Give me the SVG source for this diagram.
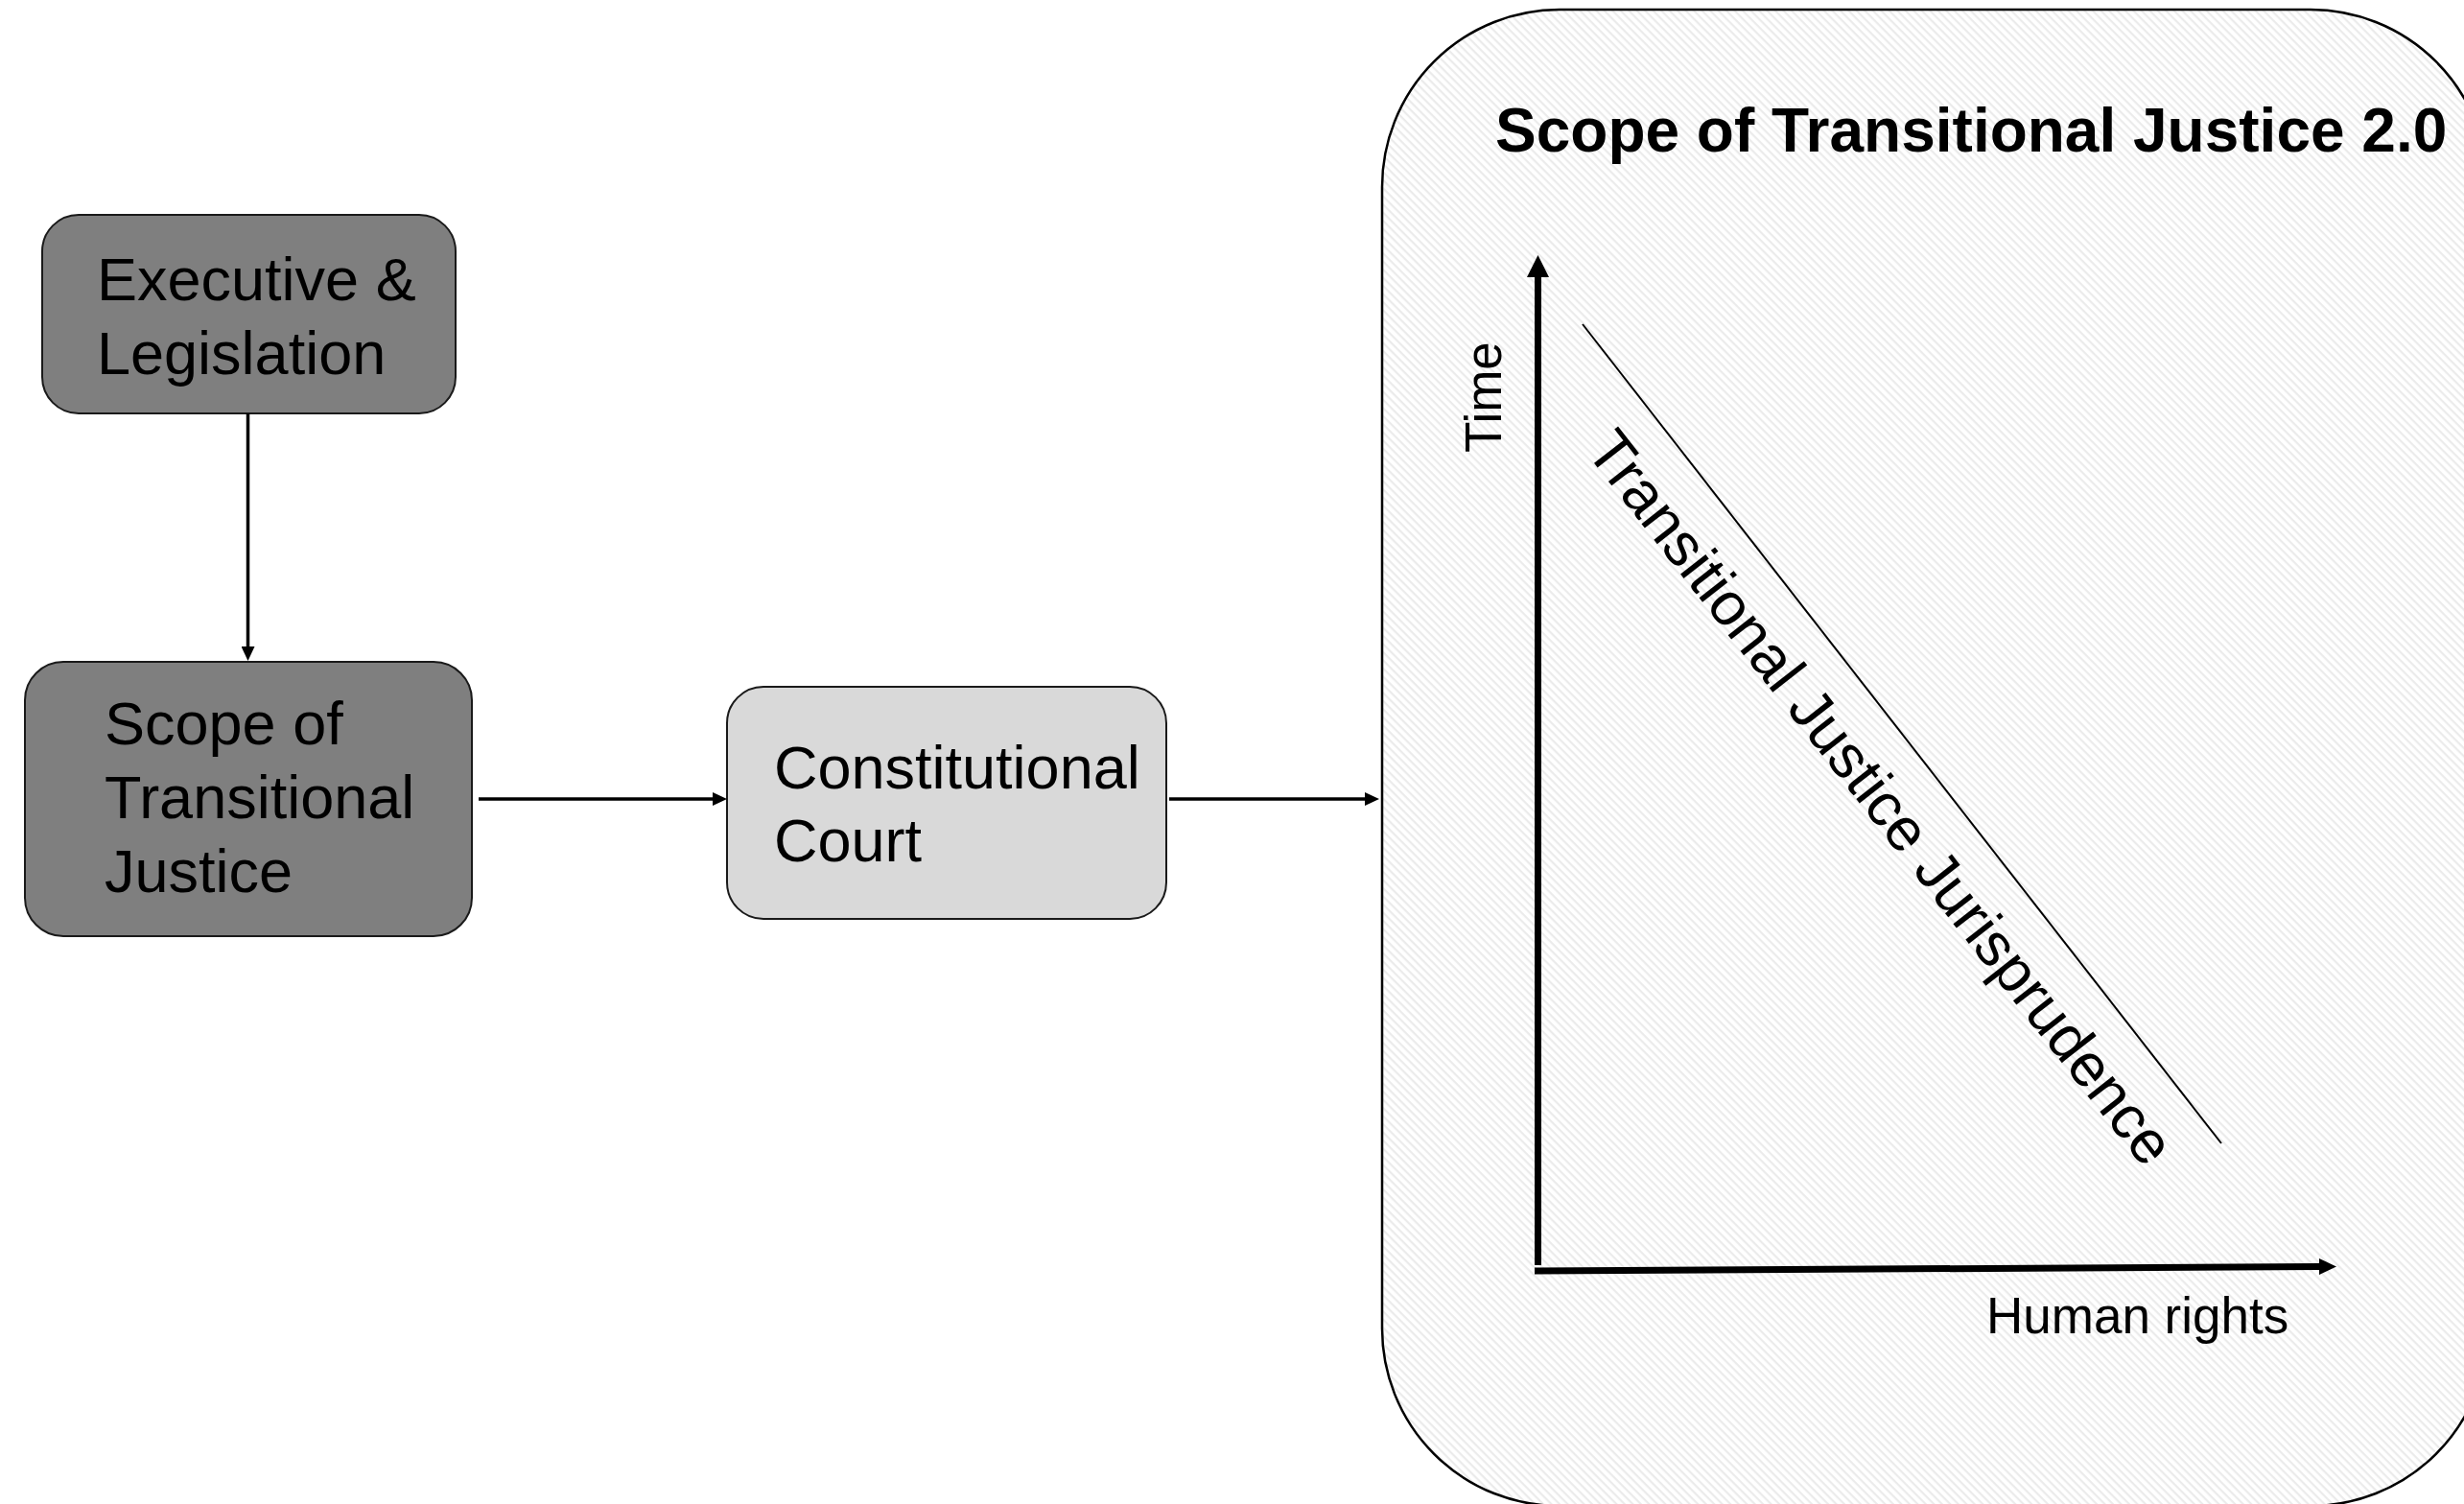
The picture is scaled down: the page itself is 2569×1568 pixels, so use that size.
<svg xmlns="http://www.w3.org/2000/svg" width="2569" height="1568" viewBox="0 0 2569 1568">
  <style>
    .lbl { font-family: "Liberation Sans", Arial, sans-serif; font-size: 63px; fill: #000; }
    .ax { font-family: "Liberation Sans", Arial, sans-serif; font-size: 53px; fill: #000; }
    .title { font-family: "Liberation Sans", Arial, sans-serif; font-size: 64px; font-weight: bold; fill: #000; }
    .box { stroke: #1a1a1a; stroke-width: 2; }
    .dark { fill: #7f7f7f; }
    .light { fill: #d9d9d9; }
    .conn { stroke: #000; stroke-width: 3.5; fill: none; }
    .axis { stroke: #000; stroke-width: 7; fill: none; }
  </style>
  <defs>
    <pattern id="hatch" patternUnits="userSpaceOnUse" width="10" height="6" patternTransform="rotate(45)">
      <rect x="0" y="0" width="10" height="6" fill="#ffffff"/>
      <rect x="0" y="0" width="10" height="2.2" fill="#ebebeb"/>
    </pattern>
    <marker id="arr" markerUnits="userSpaceOnUse" viewBox="0 0 15 14" markerWidth="15" markerHeight="14" refX="3" refY="7" orient="auto">
      <path d="M0,0 L15,7 L0,14 z" fill="#000"/>
    </marker>
    <marker id="arrY" markerUnits="userSpaceOnUse" viewBox="0 0 23 23" markerWidth="23" markerHeight="23" refX="1" refY="11.5" orient="auto">
      <path d="M0,0 L23,11.5 L0,23 z" fill="#000"/>
    </marker>
    <marker id="arrX" markerUnits="userSpaceOnUse" viewBox="0 0 18 17" markerWidth="18" markerHeight="17" refX="1" refY="8.5" orient="auto">
      <path d="M0,0 L18,8.5 L0,17 z" fill="#000"/>
    </marker>
  </defs>
  <rect x="0" y="0" width="2569" height="1568" fill="#ffffff"/>

  <g id="panel">
    <rect x="1441" y="10" width="1153" height="1560" rx="185" ry="185" fill="url(#hatch)" stroke="#000" stroke-width="2.5"/>
    <text class="title" x="1559" y="158">Scope of Transitional Justice 2.0</text>
    <line class="axis" x1="1603.5" y1="1319" x2="1603.5" y2="288" marker-end="url(#arrY)"/>
    <line class="axis" x1="1600" y1="1325" x2="2419" y2="1320.5" marker-end="url(#arrX)"/>
    <text class="ax" transform="translate(1565,472) rotate(-90)">Time</text>
    <text class="ax" x="2071" y="1390">Human rights</text>
    <line x1="1650" y1="338" x2="2316" y2="1192" stroke="#000" stroke-width="2"/>
    <text class="lbl" transform="translate(1652,470) rotate(52.05)">Transitional Justice Jurisprudence</text>
  </g>

  <g id="exec">
    <rect class="box dark" x="44" y="224" width="431" height="207" rx="38" ry="38"/>
    <text class="lbl" x="101" y="313">Executive &amp;</text>
    <text class="lbl" x="101" y="390">Legislation</text>
  </g>

  <g id="scope">
    <rect class="box dark" x="26" y="690" width="466" height="286" rx="40" ry="40"/>
    <text class="lbl" x="109" y="776">Scope of</text>
    <text class="lbl" x="109" y="853">Transitional</text>
    <text class="lbl" x="109" y="930">Justice</text>
  </g>

  <g id="court">
    <rect class="box light" x="758" y="716" width="458" height="242" rx="38" ry="38"/>
    <text class="lbl" x="807" y="822">Constitutional</text>
    <text class="lbl" x="807" y="898">Court</text>
  </g>

  <g id="connectors">
    <line class="conn" x1="258.5" y1="431" x2="258.5" y2="677" marker-end="url(#arr)"/>
    <line class="conn" x1="499" y1="833" x2="746" y2="833" marker-end="url(#arr)"/>
    <line class="conn" x1="1219" y1="833" x2="1426" y2="833" marker-end="url(#arr)"/>
  </g>
</svg>
